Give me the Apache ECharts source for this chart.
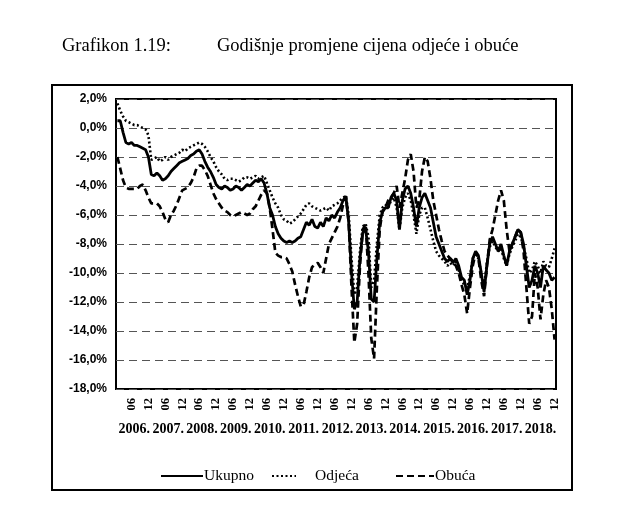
<!DOCTYPE html>
<html>
<head>
<meta charset="utf-8">
<script src="https://cdn.jsdelivr.net/npm/echarts@6/dist/echarts.min.js"></script>
<style>
html,body{margin:0;padding:0;background:#fff;}
#c{width:632px;height:520px;}
</style>
</head>
<body>
<div id="c"></div>
<script>
const years = [2006,2007,2008,2009,2010,2011,2012,2013,2014,2015,2016,2017,2018];
const months = ['01','02','03','04','05','06','07','08','09','10','11','12'];
const yTicks = [-18,-16,-14,-12,-10,-8,-6,-4,-2,0,2];
const seriesNames = ['Ukupno','Odjeća','Obuća'];

const ukupno = [
 0.5,0.5,-0.3,-1.0,-1.1,-1.0,-1.2,-1.2,-1.3,-1.4,-1.5,-2.0,
 -3.2,-3.3,-3.1,-3.3,-3.6,-3.5,-3.3,-3.0,-2.8,-2.6,-2.4,-2.3,
 -2.2,-2.1,-1.9,-1.8,-1.6,-1.5,-1.8,-2.3,-2.7,-3.0,-3.4,-3.9,
 -4.1,-4.2,-4.0,-4.1,-4.3,-4.2,-4.0,-4.1,-4.3,-4.1,-3.9,-4.0,
 -3.8,-3.6,-3.7,-3.5,-3.8,-4.5,-5.5,-6.0,-6.8,-7.3,-7.6,-7.8,
 -7.9,-7.8,-7.9,-7.8,-7.6,-7.5,-7.0,-6.5,-6.7,-6.3,-6.8,-6.9,
 -6.5,-6.8,-6.2,-6.4,-6.0,-6.2,-5.8,-5.5,-5.0,-4.7,-6.5,-10.0,
 -12.5,-12.0,-9.0,-7.2,-7.0,-8.5,-11.8,-12.0,-9.0,-6.5,-5.8,-5.5,
 -5.5,-4.8,-4.5,-5.0,-7.0,-5.0,-4.2,-4.0,-4.5,-5.5,-6.8,-5.5,
 -4.8,-4.5,-5.0,-5.5,-6.5,-7.5,-8.0,-8.5,-9.0,-9.2,-9.0,-9.3,
 -9.0,-9.5,-10.3,-10.5,-11.5,-10.5,-9.0,-8.5,-8.8,-10.0,-11.3,-9.5,
 -8.0,-7.5,-8.0,-8.5,-8.0,-8.8,-9.5,-8.5,-8.0,-7.5,-7.0,-7.2,
 -8.0,-9.5,-11.0,-10.5,-9.5,-10.0,-11.0,-9.5,-9.8,-10.0,-10.5,-10.3
];
const odjeca = [
 1.7,1.2,0.8,0.5,0.4,0.3,0.2,0.2,0.1,0.0,-0.1,-0.5,
 -2.2,-2.1,-2.0,-2.3,-2.2,-2.0,-2.2,-2.0,-1.9,-1.8,-1.7,-1.5,
 -1.6,-1.4,-1.3,-1.2,-1.1,-1.0,-1.1,-1.3,-1.6,-2.0,-2.3,-2.7,
 -3.0,-3.2,-3.5,-3.6,-3.5,-3.5,-3.6,-3.7,-3.6,-3.4,-3.4,-3.5,
 -3.4,-3.3,-3.5,-3.4,-3.3,-3.8,-4.3,-4.8,-5.2,-5.5,-6.0,-6.3,
 -6.4,-6.6,-6.5,-6.3,-6.1,-5.9,-5.6,-5.3,-5.2,-5.4,-5.5,-5.6,
 -5.7,-5.6,-5.5,-5.7,-5.4,-5.3,-5.2,-5.0,-4.8,-4.7,-6.0,-9.0,
 -11.5,-11.0,-8.5,-6.8,-6.6,-7.5,-11.0,-10.5,-8.0,-6.0,-5.5,-5.3,
 -5.5,-5.0,-4.8,-5.5,-7.0,-5.5,-4.8,-4.5,-5.0,-6.0,-7.3,-6.0,
 -5.5,-5.5,-6.2,-7.0,-7.8,-8.5,-8.8,-9.0,-9.2,-9.5,-9.3,-9.5,
 -9.2,-9.8,-10.5,-10.8,-11.0,-10.2,-9.0,-8.7,-9.0,-10.0,-11.0,-9.3,
 -8.2,-7.8,-8.2,-8.5,-8.3,-9.0,-9.5,-8.7,-8.2,-7.8,-7.3,-7.5,
 -8.2,-9.0,-10.0,-9.8,-9.2,-9.5,-10.0,-9.2,-9.5,-9.6,-9.0,-8.3
];
const obuca = [
 -2.0,-2.8,-3.6,-4.1,-4.2,-4.2,-4.2,-4.2,-4.0,-3.9,-4.3,-4.8,
 -5.2,-5.2,-5.2,-5.4,-5.8,-6.3,-6.5,-6.0,-5.7,-5.3,-4.8,-4.3,
 -4.2,-4.1,-3.8,-3.4,-2.8,-2.6,-2.6,-2.9,-3.3,-3.9,-4.5,-4.9,
 -5.2,-5.5,-5.7,-5.8,-6.0,-6.1,-6.0,-5.9,-5.8,-5.9,-6.0,-5.9,
 -5.6,-5.4,-5.0,-4.6,-4.3,-4.5,-5.5,-7.0,-8.6,-8.8,-8.9,-8.9,
 -9.0,-9.4,-9.9,-10.8,-11.6,-12.3,-12.2,-11.3,-10.3,-9.6,-9.4,-9.3,
 -9.6,-10.0,-9.0,-8.0,-7.6,-7.2,-6.8,-6.2,-5.3,-4.7,-6.5,-11.0,
 -14.8,-13.5,-9.5,-7.0,-6.6,-10.0,-14.5,-15.9,-11.0,-7.0,-5.7,-5.5,
 -5.0,-4.8,-4.5,-4.0,-5.5,-4.5,-3.5,-2.2,-1.8,-3.0,-5.5,-5.0,
 -3.0,-2.0,-2.3,-3.5,-5.0,-6.0,-7.0,-7.8,-8.5,-8.8,-9.0,-9.2,
 -9.5,-10.0,-10.8,-11.5,-12.8,-11.0,-9.5,-8.6,-9.0,-10.5,-11.6,-9.5,
 -7.7,-7.0,-6.0,-5.0,-4.3,-5.0,-7.0,-8.5,-8.0,-7.5,-7.0,-7.2,
 -8.5,-11.0,-13.5,-13.0,-10.0,-11.0,-13.2,-11.5,-10.5,-11.0,-12.5,-14.6
];

const categories = years.flatMap(y => months.map(m => y + '-' + m));

const chart = echarts.init(document.getElementById('c'));
const serif = '"Liberation Serif", "Times New Roman", serif';
const sans = '"Liberation Sans", Arial, sans-serif';
const legendCommon = { top: 463, itemHeight: 14, itemStyle: { opacity: 0 } };

chart.setOption({
  animation: false,
  backgroundColor: '#fff',
  graphic: [
    { type: 'rect', shape: { x: 52, y: 85, width: 520, height: 405 },
      style: { fill: 'none', stroke: '#000', lineWidth: 2 } },
    { type: 'text', left: 62, top: 37,
      style: { text: 'Grafikon 1.19:', font: '18.5px ' + serif, fill: '#000' } },
    { type: 'text', left: 217, top: 37,
      style: { text: 'Godišnje promjene cijena odjeće i obuće', font: '18.5px ' + serif, fill: '#000' } }
  ],
  grid: { left: 116, right: 76, top: 99, bottom: 131, show: true,
          borderColor: '#000', borderWidth: 2, backgroundColor: 'transparent' },
  legend: [
    Object.assign({ data: [seriesNames[0]], left: 155, itemWidth: 42,
      textStyle: { fontFamily: serif, fontSize: 15.5, color: '#000', padding: [0,0,0,-4] } }, legendCommon),
    Object.assign({ data: [seriesNames[1]], left: 266, itemWidth: 24,
      textStyle: { fontFamily: serif, fontSize: 15.5, color: '#000', padding: [0,0,0,14] } }, legendCommon),
    Object.assign({ data: [seriesNames[2]], left: 390, itemWidth: 38,
      textStyle: { fontFamily: serif, fontSize: 15.5, color: '#000', padding: [0,0,0,-4] } }, legendCommon)
  ],
  xAxis: [
    { type: 'category', data: categories, boundaryGap: true,
      axisLine: { show: false }, axisTick: { show: false }, splitLine: { show: false },
      axisLabel: { interval: (i) => i % 6 === 5, rotate: 90, margin: 9,
        formatter: (v) => v.split('-')[1],
        fontFamily: serif, fontWeight: 'bold', fontSize: 12.5, color: '#000' } },
    { type: 'category', data: categories, boundaryGap: true, position: 'bottom',
      axisLine: { show: false }, axisTick: { show: false }, splitLine: { show: false },
      axisLabel: { interval: (i) => i % 12 === 6, margin: 33,
        formatter: (v) => v.split('-')[0] + '.',
        fontFamily: serif, fontWeight: 'bold', fontSize: 14, color: '#000' } }
  ],
  yAxis: {
    type: 'value', min: -18, max: 2, interval: 2,
    axisLine: { show: false }, axisTick: { show: false },
    splitLine: { show: true, lineStyle: { color: '#555', width: 1, type: [8, 5] } },
    axisLabel: { margin: 9, fontFamily: sans, fontWeight: 'bold', fontSize: 12, color: '#000',
      formatter: (v) => yTicks.includes(v) ? v.toFixed(1).replace('.', ',') + '%' : '' }
  },
  series: [
    { name: seriesNames[2], type: 'line', data: obuca, symbol: 'none', z: 3,
      lineStyle: { color: '#000', width: 2.7, type: [7, 4] }, itemStyle: { color: '#000' } },
    { name: seriesNames[1], type: 'line', data: odjeca, symbol: 'none', z: 4,
      lineStyle: { color: '#000', width: 2.6, type: [2, 2.5] }, itemStyle: { color: '#000' } },
    { name: seriesNames[0], type: 'line', data: ukupno, symbol: 'none', z: 5,
      lineStyle: { color: '#000', width: 2.8 }, itemStyle: { color: '#000' } }
  ]
});
</script>
</body>
</html>
